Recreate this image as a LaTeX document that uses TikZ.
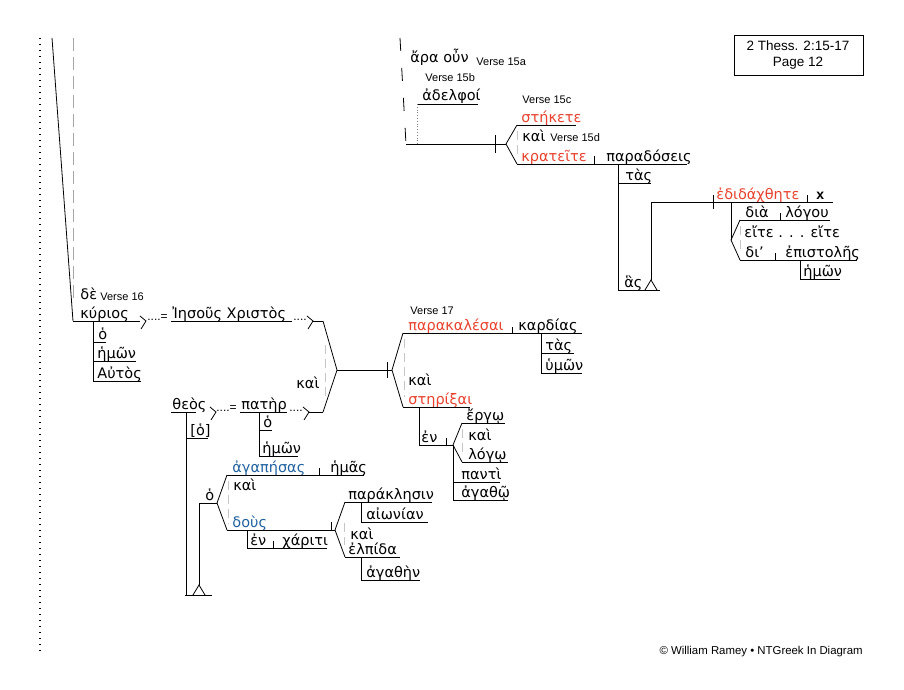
\documentclass[tikz,border=0pt]{standalone}
\usepackage{fontspec}
\setmainfont{Liberation Sans}
\newfontfamily\greekfont{DejaVu Sans}
\definecolor{diagRed}{RGB}{232,66,46}
\definecolor{diagBlue}{RGB}{32,98,160}
\def\eqBracket{\draw (0,-5)--(6,0)--(1,8);}
\def\standMark{\draw (-6,0)--(0,-10)--(6,0);}

\begin{document}
\begin{tikzpicture}[x=1pt, y=-1pt, line width=0.8pt,
	gk/.style={font=\greekfont\fontsize{14.5}{16}\selectfont, anchor=base west, inner sep=0pt},
	gkred/.style={gk, text=diagRed},
	gkblue/.style={gk, text=diagBlue},
	verse/.style={font=\fontsize{11}{13}\selectfont, anchor=base west, inner sep=0pt},
	dots/.style={font=\fontsize{12}{14}\selectfont, anchor=base west, inner sep=0pt},
	forkdash/.style={gray!45, line width=1pt, dash pattern=on 9pt off 5pt}]
		\useasboundingbox (0,0) rectangle (904,690);
		
		% title and credit
		\draw[line width=0.9pt] (734,35) rectangle (863,75);
		\node[font=\fontsize{13.5}{16}\selectfont, align=center, inner sep=0pt] (title) at (798,55) {2 Thess. 2:15-17\\Page 12};
		\node[font=\fontsize{11.4}{13}\selectfont, anchor=base east, inner sep=0pt] (credit) at (863,654) {© William Ramey • NTGreek In Diagram};
		
		% left margin lines
		\draw[line width=1.3pt, dash pattern=on 1pt off 5pt] (40,38)--(40,655);
		\draw (52,38)--(73,321);
		\draw[gray!70, dash pattern=on 13pt off 6pt] (73,38)--(73,302);
		
		% verse 15a-15b
		\draw[dash pattern=on 13pt off 17pt] (400,38)--(406,144);
		\node[gk] (ara) at (410,63) {ἄρα οὖν};
		\node[verse] (v15a) at (476,66) {Verse 15a};
		\node[verse] (v15b) at (425,82) {Verse 15b};
		\node[gk] (adelphoi) at (422,101) {ἀδελφοί};
		\draw (417,104)--(478,104);
		\draw[gray, dotted] (417,104)--(417,144);
		\draw (406,144)--(506,144);
		\draw (495,135)--(495,153);
		
		% verse 15c-15d
		\draw (506,144)--(517,125) (506,144)--(517,164);
		\draw[forkdash] (517,131)--(517,158);
		\node[verse] (v15c) at (522,104) {Verse 15c};
		\node[gkred] (stekete) at (521,122) {στήκετε};
		\draw (517,125)--(576,125);
		\node[gk] (kai1) at (522,141) {καὶ};
		\node[verse] (v15d) at (550,141) {Verse 15d};
		\node[gkred] (krateite) at (521,161) {κρατεῖτε};
		\node[gk] (paradoseis) at (606,161) {παραδόσεις};
		\draw (517,164)--(687,164);
		\draw (594,156)--(594,164);
		\draw (618,164)--(618,290);
		\node[gk] (tas1) at (625,180) {τὰς};
		\draw (618,183)--(651,183);
		
		% relative clause
		\node[gk] (has) at (624,287) {ἃς};
		\draw (618,290)--(660,290);
		\begin{scope}[shift={(651,290)}]
			\standMark
		\end{scope}
		\draw (651,280)--(651,202)--(833,202);
		\draw (713,195)--(713,209);
		\draw (807,195)--(807,202);
		\node[gkred] (edidachthete) at (716,199) {ἐδιδάχθητε};
		\node[font=\bfseries\fontsize{14}{16}\selectfont, anchor=base west, inner sep=0pt] (xmark) at (816,199) {x};
		\draw (731,202)--(731,240);
		\draw (731,240)--(740,220) (731,240)--(740,260);
		\draw[forkdash] (740,226)--(740,252);
		\node[gk] (dia) at (745,217) {διὰ};
		\node[gk] (logou) at (785,217) {λόγου};
		\draw (740,220)--(830,220);
		\draw (780,213)--(780,220);
		\node[gk] (eite) at (744,237) {εἴτε . . . εἴτε};
		\node[gk] (di) at (745,257) {δι’};
		\node[gk] (epistoles) at (785,257) {ἐπιστολῆς};
		\draw (740,260)--(857,260);
		\draw (775,253)--(775,260);
		\draw (800,260)--(800,279)--(840,279);
		\node[gk] (hemon1) at (803,276) {ἡμῶν};
		
		% verse 16 subject
		\node[gk] (de) at (80,299) {δὲ};
		\node[verse] (v16) at (100,300) {Verse 16};
		\node[gk] (kurios) at (80,318) {κύριος};
		\draw (73,321)--(140,321);
		\begin{scope}[shift={(140,321)}]
			\eqBracket
		\end{scope}
		\node[dots] (eq1) at (147,320) {....=};
		\node[gk] (iesous) at (172,318) {Ἰησοῦς Χριστὸς};
		\draw (171,321)--(292,321);
		\node[dots] (dots1) at (293,320) {....};
		\begin{scope}[shift={(307,321)}]
			\eqBracket
		\end{scope}
		\draw (313,321)--(323,321);
		\draw (93,321)--(93,381);
		\node[gk] (ho1) at (98,339) {ὁ};
		\draw (93,342)--(106,342);
		\node[gk] (hemon2) at (97,358) {ἡμῶν};
		\draw (93,361)--(136,361);
		\node[gk] (autos) at (97,378) {Αὐτὸς};
		\draw (93,381)--(141,381);
		
		\node[gk] (theos) at (172,409) {θεὸς};
		\draw (171,412)--(196,412);
		\begin{scope}[shift={(210,412)}]
			\eqBracket
		\end{scope}
		\node[dots] (eq2) at (216,411) {....=};
		\node[gk] (pater) at (241,409) {πατὴρ};
		\draw (240,412)--(287,412);
		\node[dots] (dots2) at (289,411) {....};
		\begin{scope}[shift={(303,412)}]
			\eqBracket
		\end{scope}
		\draw (309,412)--(323,412);
		\draw (259,412)--(259,456);
		\node[gk] (ho2) at (263,427) {ὁ};
		\draw (259,430)--(272,430);
		\node[gk] (hemon3) at (262,453) {ἡμῶν};
		\draw (259,456)--(298,456);
		
		% compound subject fork
		\draw (323,321)--(337,370)--(323,412);
		\draw[forkdash] (325,345)--(325,397);
		\node[gk] (kai2) at (296,388) {καὶ};
		\draw (337,370)--(392,370);
		\draw (387,362)--(387,378);
		
		% verse 17 predicates
		\draw (392,370)--(403,333) (392,370)--(403,407);
		\draw[forkdash] (404,339)--(404,397);
		\node[verse] (v17) at (410,314) {Verse 17};
		\node[gkred] (parakalesai) at (408,330) {παρακαλέσαι};
		\draw (403,333)--(582,333);
		\draw (512,327)--(512,333);
		\node[gk] (kardias) at (518,330) {καρδίας};
		\draw (541,333)--(541,373);
		\node[gk] (tas2) at (545,350) {τὰς};
		\draw (541,353)--(574,353);
		\node[gk] (humon) at (545,370) {ὑμῶν};
		\draw (541,373)--(582,373);
		\node[gk] (kai3) at (408,385) {καὶ};
		\node[gkred] (sterixai) at (408,404) {στηρίξαι};
		\draw (403,407)--(470,407);
		\draw (419,407)--(419,445)--(453,445);
		\node[gk] (en1) at (421,442) {ἐν};
		\draw (446,438)--(446,445);
		\draw (453,445)--(462,423) (453,445)--(462,462);
		\draw[forkdash] (462,429)--(462,455);
		\node[gk] (ergo) at (466,420) {ἔργῳ};
		\draw (462,423)--(505,423);
		\node[gk] (kai4) at (468,440) {καὶ};
		\node[gk] (logo) at (468,459) {λόγῳ};
		\draw (462,462)--(508,462);
		\draw (453,445)--(453,500);
		\node[gk] (panti) at (461,479) {παντὶ};
		\draw (453,482)--(500,482);
		\node[gk] (agatho) at (461,497) {ἀγαθῷ};
		\draw (453,500)--(508,500);
		
		% participles
		\draw (186,412)--(186,595);
		\node[gk] (ho3) at (190,435) {[ὁ]};
		\draw (186,438)--(208,438);
		\draw (185,595)--(212,595);
		\begin{scope}[shift={(199,595)}]
			\standMark
		\end{scope}
		\draw (199,585)--(199,503)--(217,503);
		\node[gk] (ho4) at (205,500) {ὁ};
		\draw (217,503)--(227,475) (217,503)--(227,530);
		\draw[forkdash] (228,481)--(228,524);
		\node[gkblue] (agapesas) at (232,472) {ἀγαπήσας};
		\draw (227,475)--(364,475);
		\draw (319,468)--(319,475);
		\node[gk] (hemas) at (330,472) {ἡμᾶς};
		\node[gk] (kai5) at (233,490) {καὶ};
		\node[gkblue] (dous) at (232,527) {δοὺς};
		\draw (227,530)--(335,530);
		\draw (331,522)--(331,530);
		\draw (247,530)--(247,548)--(327,548);
		\node[gk] (en2) at (250,545) {ἐν};
		\draw (273,541)--(273,548);
		\node[gk] (chariti) at (282,545) {χάριτι};
		\draw (335,530)--(345,502) (335,530)--(345,557);
		\draw[forkdash] (344,523)--(344,545);
		\node[gk] (paraklesin) at (348,499) {παράκλησιν};
		\draw (345,502)--(432,502);
		\draw (361,502)--(361,522);
		\node[gk] (aionian) at (366,519) {αἰωνίαν};
		\draw (361,522)--(428,522);
		\node[gk] (kai6) at (350,539) {καὶ};
		\node[gk] (elpida) at (348,554) {ἐλπίδα};
		\draw (345,557)--(400,557);
		\draw (361,557)--(361,580);
		\node[gk] (agathen) at (366,577) {ἀγαθὴν};
		\draw (361,580)--(420,580);
\end{tikzpicture}
\end{document}
